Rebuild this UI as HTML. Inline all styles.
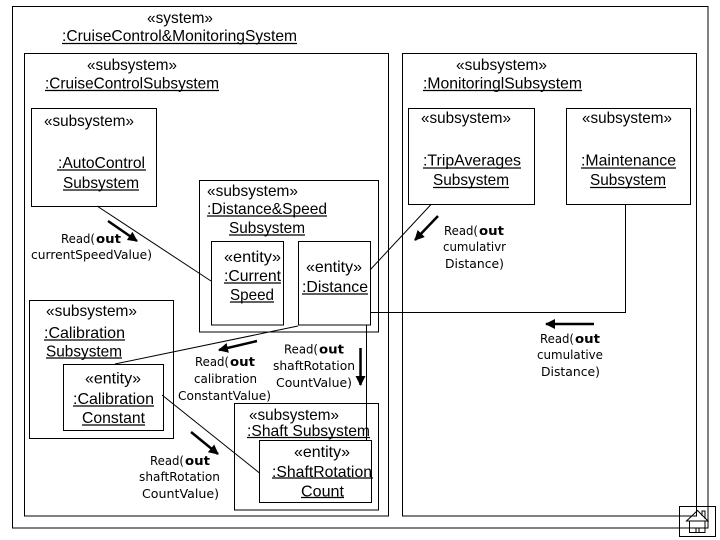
<!DOCTYPE html>
<html><head><meta charset="utf-8"><style>
html,body{margin:0;padding:0;background:#fff}
svg{display:block}
rect,.c{fill:none;stroke:#000;stroke-width:1}
.t{stroke-width:2.5}
.u{stroke:#000;stroke-width:1.2}
text{fill:#000;font-family:"Liberation Sans",sans-serif;font-size:16px}
.s{font-family:"DejaVu Sans",sans-serif;font-size:12px}
.b{font-weight:bold}
</style></head><body>
<svg width="720" height="540" viewBox="0 0 720 540" xmlns="http://www.w3.org/2000/svg">
<defs><marker id="a" markerWidth="4" markerHeight="4" refX="3.6" refY="2" orient="auto" markerUnits="strokeWidth"><path d="M0 0L4 2L0 4Z" fill="#000"/></marker></defs>
<rect x="12.5" y="6.5" width="695.5" height="521.5"/>
<rect x="24.5" y="53.5" width="364" height="462.5"/>
<rect x="402.5" y="53.5" width="294" height="462.5"/>
<rect x="31.5" y="108.5" width="125" height="98"/>
<rect x="199.5" y="180.5" width="179" height="151.5"/>
<rect x="211.5" y="241.5" width="72" height="83.5"/>
<rect x="298.5" y="241.5" width="72" height="83.5"/>
<rect x="29.5" y="300.5" width="144" height="138"/>
<rect x="63.5" y="364.5" width="100" height="66"/>
<rect x="234.5" y="403.5" width="144" height="106.5"/>
<rect x="259.5" y="440.5" width="112" height="62"/>
<rect x="408.5" y="108.5" width="126" height="96"/>
<rect x="566.5" y="108.5" width="124" height="96"/>

<path class="c" d="M97 206L211 281M431 204.5L370 270M625.5 204.5V312.5H370.5M298 326L115 364M162 395L259.5 473M366.5 325V440.5"/>
<path class="c t" marker-end="url(#a)" d="M108 221L137 241"/>
<path class="c t" marker-end="url(#a)" d="M438 216L415 240"/>
<path class="c t" marker-end="url(#a)" d="M257 341L219 350"/>
<path class="c t" marker-end="url(#a)" d="M360.5 348V385"/>
<path class="c t" marker-end="url(#a)" d="M191 432L218 454"/>
<path class="c t" marker-end="url(#a)" d="M594 324H546"/>

<text x="147" y="23" textLength="66" lengthAdjust="spacingAndGlyphs">«system»</text>
<text x="62" y="41" textLength="235" lengthAdjust="spacingAndGlyphs">:CruiseControl&amp;MonitoringSystem</text><path class="u" d="M62 43.5H297"/>
<text x="87" y="70" textLength="90" lengthAdjust="spacingAndGlyphs">«subsystem»</text>
<text x="45" y="88.5" textLength="174" lengthAdjust="spacingAndGlyphs">:CruiseControlSubsystem</text><path class="u" d="M45 90.5H219"/>
<text x="44" y="126" textLength="90" lengthAdjust="spacingAndGlyphs">«subsystem»</text>
<text x="58" y="168" textLength="87" lengthAdjust="spacingAndGlyphs">:AutoControl</text><path class="u" d="M57 170H146"/>
<text x="63" y="188" textLength="76" lengthAdjust="spacingAndGlyphs">Subsystem</text><path class="u" d="M63 190H139"/>

<text class="s" x="61" y="243" textLength="34" lengthAdjust="spacingAndGlyphs">Read(</text><text class="s b" x="96" y="243" textLength="25" lengthAdjust="spacingAndGlyphs">out</text>
<text class="s" x="31" y="259" textLength="121" lengthAdjust="spacingAndGlyphs">currentSpeedValue)</text>

<text x="207" y="196" textLength="91" lengthAdjust="spacingAndGlyphs">«subsystem»</text>
<text x="207" y="214" textLength="120" lengthAdjust="spacingAndGlyphs">:Distance&amp;Speed</text><path class="u" d="M207 216H327"/>
<text x="229" y="233" textLength="76" lengthAdjust="spacingAndGlyphs">Subsystem</text><path class="u" d="M229 235H305"/>
<text x="224" y="262" textLength="57" lengthAdjust="spacingAndGlyphs">«entity»</text>
<text x="224" y="281" textLength="57" lengthAdjust="spacingAndGlyphs">:Current</text><path class="u" d="M224 283H281"/>
<text x="230" y="300" textLength="44" lengthAdjust="spacingAndGlyphs">Speed</text><path class="u" d="M230 302H274"/>
<text x="306" y="272" textLength="56" lengthAdjust="spacingAndGlyphs">«entity»</text>
<text x="302" y="292" textLength="66" lengthAdjust="spacingAndGlyphs">:Distance</text><path class="u" d="M302 294H368"/>

<text x="46" y="316" textLength="91" lengthAdjust="spacingAndGlyphs">«subsystem»</text>
<text x="44" y="338" textLength="81" lengthAdjust="spacingAndGlyphs">:Calibration</text><path class="u" d="M44 340H125"/>
<text x="46" y="356.5" textLength="76" lengthAdjust="spacingAndGlyphs">Subsystem</text><path class="u" d="M46 358H122"/>
<text x="85" y="383.5" textLength="56" lengthAdjust="spacingAndGlyphs">«entity»</text>
<text x="73" y="404" textLength="81" lengthAdjust="spacingAndGlyphs">:Calibration</text><path class="u" d="M73 406H154"/>
<text x="82" y="423" textLength="63" lengthAdjust="spacingAndGlyphs">Constant</text><path class="u" d="M82 425H145"/>

<text class="s" x="195" y="366" textLength="34" lengthAdjust="spacingAndGlyphs">Read(</text><text class="s b" x="230" y="366" textLength="25" lengthAdjust="spacingAndGlyphs">out</text>
<text class="s" x="194" y="383" textLength="63" lengthAdjust="spacingAndGlyphs">calibration</text>
<text class="s" x="178" y="400" textLength="93" lengthAdjust="spacingAndGlyphs">ConstantValue)</text>
<text class="s" x="284" y="353.5" textLength="34" lengthAdjust="spacingAndGlyphs">Read(</text><text class="s b" x="319" y="353.5" textLength="25" lengthAdjust="spacingAndGlyphs">out</text>
<text class="s" x="273" y="370" textLength="82" lengthAdjust="spacingAndGlyphs">shaftRotation</text>
<text class="s" x="276" y="387" textLength="76" lengthAdjust="spacingAndGlyphs">CountValue)</text>

<text x="249" y="420" textLength="90" lengthAdjust="spacingAndGlyphs">«subsystem»</text>
<text x="247" y="436" textLength="123" lengthAdjust="spacingAndGlyphs">:Shaft Subsystem</text><path class="u" d="M247 437.5H370"/>
<text x="294" y="457" textLength="56" lengthAdjust="spacingAndGlyphs">«entity»</text>
<text x="272" y="477" textLength="100" lengthAdjust="spacingAndGlyphs">:ShaftRotation</text><path class="u" d="M272 478H373"/>
<text x="301" y="496.5" textLength="43" lengthAdjust="spacingAndGlyphs">Count</text><path class="u" d="M301 497.5H344"/>

<text class="s" x="150" y="465" textLength="34" lengthAdjust="spacingAndGlyphs">Read(</text><text class="s b" x="185" y="465" textLength="25" lengthAdjust="spacingAndGlyphs">out</text>
<text class="s" x="139" y="481" textLength="81" lengthAdjust="spacingAndGlyphs">shaftRotation</text>
<text class="s" x="142" y="498" textLength="77" lengthAdjust="spacingAndGlyphs">CountValue)</text>

<text x="456" y="70" textLength="91" lengthAdjust="spacingAndGlyphs">«subsystem»</text>
<text x="423" y="88.5" textLength="159" lengthAdjust="spacingAndGlyphs">:MonitoringlSubsystem</text><path class="u" d="M423 90.5H582"/>
<text x="421" y="123" textLength="90" lengthAdjust="spacingAndGlyphs">«subsystem»</text>
<text x="423" y="165.5" textLength="98" lengthAdjust="spacingAndGlyphs">:TripAverages</text><path class="u" d="M423 168H521"/>
<text x="433" y="185" textLength="76" lengthAdjust="spacingAndGlyphs">Subsystem</text><path class="u" d="M433 187.5H509"/>
<text x="582" y="123" textLength="90" lengthAdjust="spacingAndGlyphs">«subsystem»</text>
<text x="581" y="165.5" textLength="95" lengthAdjust="spacingAndGlyphs">:Maintenance</text><path class="u" d="M581 168H676"/>
<text x="590" y="185" textLength="76" lengthAdjust="spacingAndGlyphs">Subsystem</text><path class="u" d="M590 187.5H666"/>

<text class="s" x="444" y="235" textLength="34" lengthAdjust="spacingAndGlyphs">Read(</text><text class="s b" x="479" y="235" textLength="25" lengthAdjust="spacingAndGlyphs">out</text>
<text class="s" x="443" y="251" textLength="63" lengthAdjust="spacingAndGlyphs">cumulativr</text>
<text class="s" x="445" y="268" textLength="59" lengthAdjust="spacingAndGlyphs">Distance)</text>
<text class="s" x="540" y="343" textLength="34" lengthAdjust="spacingAndGlyphs">Read(</text><text class="s b" x="575" y="343" textLength="25" lengthAdjust="spacingAndGlyphs">out</text>
<text class="s" x="537" y="359" textLength="66" lengthAdjust="spacingAndGlyphs">cumulative</text>
<text class="s" x="541" y="376" textLength="59" lengthAdjust="spacingAndGlyphs">Distance)</text>

<rect x="679.5" y="506.5" width="36" height="30"/>
<path class="c" d="M686.5 521H708L697.5 510.5ZM689.5 521V532.5H705V521M696 532.5V528H699V532.5M702 516V511H705V519"/>
</svg>
</body></html>
